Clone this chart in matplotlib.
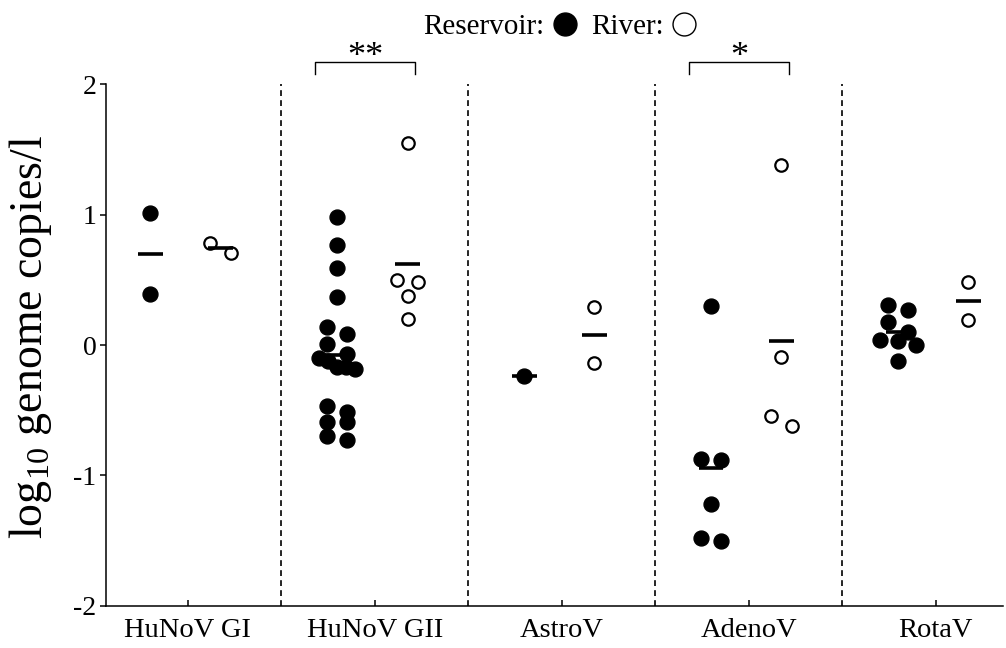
import numpy as np
import matplotlib
matplotlib.use('Agg')
import matplotlib.pyplot as plt
from matplotlib.lines import Line2D

plt.rcParams['font.family'] = ['Liberation Serif', 'DejaVu Serif']
plt.rcParams['mathtext.fontset'] = 'custom'
plt.rcParams['mathtext.rm'] = 'Liberation Serif'
plt.rcParams['axes.unicode_minus'] = False

# log10 genome copies/l per virus, reservoir vs river samples
categories = ['HuNoV GI', 'HuNoV GII', 'AstroV', 'AdenoV', 'RotaV']
reservoir = [
    [1.01, 0.39],
    [0.98, 0.77, 0.59, 0.37, 0.14, 0.085, 0.01, -0.07, -0.10, -0.12,
     -0.17, -0.18, -0.17, -0.47, -0.51, -0.59, -0.59, -0.70, -0.73],
    [-0.24],
    [0.30, -0.87, -0.88, -1.22, -1.48, -1.50],
    [0.305, 0.27, 0.175, 0.10, 0.0, 0.04, 0.03, -0.12],
]
river = [
    [0.78, 0.705],
    [1.55, 0.50, 0.485, 0.38, 0.20],
    [0.29, -0.135],
    [1.38, -0.09, -0.545, -0.62],
    [0.48, 0.19],
]
# significance brackets: (category index, label)
signif = [(1, '**'), (3, '*')]

fig = plt.figure(figsize=(10.06, 6.48), dpi=100)
ax = fig.add_axes([0.105, 0.065, 0.892, 0.805])
ax.set_xlim(-0.44, 4.36)
ax.set_ylim(-2, 2)


# prism-style scatter: values close together share a row and are spread
# symmetrically around the group centre (all distances in pixels)
def row_x(xc, values, row_px, gap_px, max_px):
    tr = ax.transData
    pts = tr.transform(np.column_stack([np.full(len(values), xc), values]))
    x0 = pts[0, 0]
    order = np.argsort(values)[::-1]
    rows = []
    for i in order:
        if rows and pts[rows[-1][0], 1] - pts[i, 1] < row_px:
            rows[-1].append(i)
        else:
            rows.append([i])
    xs = np.zeros(len(values))
    for r in rows:
        n = len(r)
        step = gap_px if n < 2 else min(gap_px, max_px / (n - 1))
        for k, i in enumerate(r):
            xs[i] = x0 + (k - (n - 1) / 2) * step
    return tr.inverted().transform(np.column_stack([xs, pts[:, 1]]))[:, 0]


for i in range(len(categories)):
    xr = i - 0.2
    xv = i + 0.175
    ax.scatter(row_x(xr, reservoir[i], 12, 20, 36), reservoir[i], s=115,
               color='black', zorder=3)
    ax.scatter(row_x(xv, river[i], 12, 21, 32), river[i], s=80,
               facecolor='white', edgecolor='black', linewidth=1.6, zorder=3)
    ax.hlines(np.mean(reservoir[i]), xr - 0.065, xr + 0.065, color='black',
              lw=2.6, zorder=4)
    ax.hlines(np.mean(river[i]), xv - 0.065, xv + 0.065, color='black',
              lw=2.6, zorder=4)

for i in range(len(categories) - 1):
    ax.axvline(i + 0.5, color='black', lw=1.2, ls=(0, (3.5, 2.5)), zorder=1)

for i, lab in signif:
    x1, x2 = i - 0.32, i + 0.215
    ax.plot([x1, x1, x2, x2], [2.08, 2.17, 2.17, 2.08], color='black',
            lw=1.0, clip_on=False)
    ax.text((x1 + x2) / 2, 2.14, lab, ha='center', va='baseline',
            fontsize=26, clip_on=False)

ax.spines['top'].set_visible(False)
ax.spines['right'].set_visible(False)
ax.spines['left'].set_linewidth(1.1)
ax.spines['bottom'].set_linewidth(1.1)
ax.set_xticks(range(len(categories)))
ax.set_xticklabels(categories)
ax.set_yticks([-2, -1, 0, 1, 2])
ax.set_yticklabels(['-2', '-1', '0', '1', '2'])
ax.tick_params(axis='y', direction='out', length=4.5, width=1.1, pad=2,
               labelsize=20)
ax.tick_params(axis='x', direction='in', length=4, width=1.1, pad=9,
               labelsize=20.5)

fig.text(0.03, 1 - 336.5 / 648, r'log$_{10}$ genome copies/l', rotation=90,
         ha='center', va='center', fontsize=33)

handles = [
    Line2D([], [], marker='o', ls='none', mfc='black', mec='black', ms=16.5),
    Line2D([], [], marker='o', ls='none', mfc='white', mec='black', ms=16.5,
           mew=1.0),
]
fig.legend(handles, ['Reservoir:', 'River:'], ncol=2, markerfirst=False,
           frameon=False, loc='center', bbox_to_anchor=(0.558, 0.958),
           fontsize=21, handletextpad=0.2, columnspacing=0.4,
           handlelength=1.0)

fig.savefig('out.png', dpi=100)
